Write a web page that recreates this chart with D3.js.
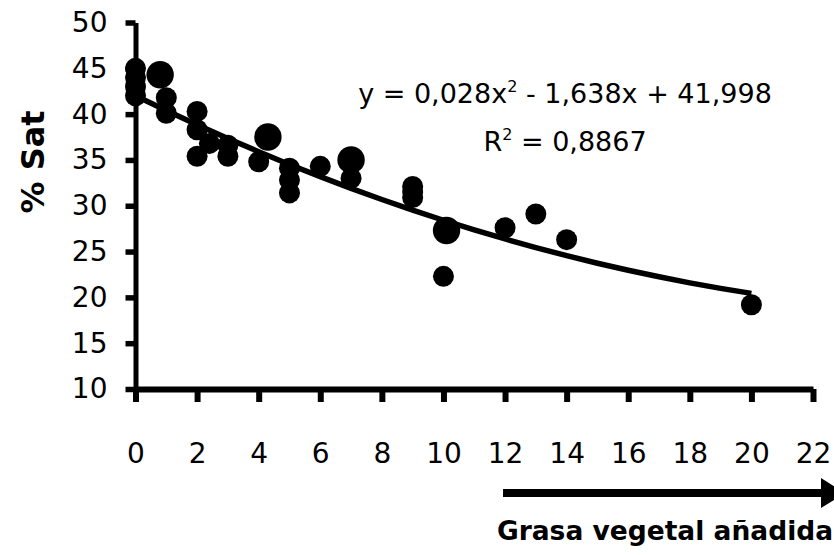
<!DOCTYPE html>
<html>
<head>
<meta charset="utf-8">
<script src="https://cdn.jsdelivr.net/npm/d3@7/dist/d3.min.js"></script>
<style>
  html, body { margin: 0; padding: 0; background: #fff; }
  svg { display: block; }
  text { font-family: "DejaVu Sans", sans-serif; fill: #000; }
</style>
</head>
<body>
<svg id="chart" width="834" height="555"></svg>
<script>
// Saturation (%) against added vegetable fat
const smallX = [0, 0, 0, 0, 1, 1, 2, 2, 2, 2.4, 3, 3, 4, 5, 5, 5, 6, 7, 9, 9, 9, 10, 12, 13, 14, 20];
const smallY = [45, 44, 43, 42, 41.8, 40.1, 40.3, 38.3, 35.4, 36.8, 36.6, 35.4, 34.8, 34.1, 32.8, 31.4, 34.3, 33.0, 32.1, 31.5, 30.9, 22.3, 27.6, 29.1, 26.3, 19.2];
const largeX = [0.8, 4.3, 7, 10.1];
const largeY = [44.3, 37.5, 35.0, 27.3];

// Polynomial trend: y = c2*x^2 + c1*x + c0
const trendCoef = [41.998, -1.638, 0.028];
const trendRange = [0, 20];
const r2Label = "0,8867";

const xTicks = [0, 2, 4, 6, 8, 10, 12, 14, 16, 18, 20, 22];
const yTicks = [10, 15, 20, 25, 30, 35, 40, 45, 50];

const svg = d3.select("#chart");

const x = d3.scaleLinear().domain([0, 22]).range([135.5, 813]);
const y = d3.scaleLinear().domain([10, 50]).range([389, 22.5]);

// Y axis
const yAxis = svg.append("g")
  .attr("transform", `translate(${x(0)},0)`)
  .call(d3.axisLeft(y).tickValues(yTicks).tickSize(10).tickSizeOuter(0).tickPadding(18)
    .tickFormat(d3.format("d")));
yAxis.select(".domain").attr("stroke", "#000").attr("stroke-width", 5);
yAxis.selectAll(".tick line").attr("stroke", "#000").attr("stroke-width", 5.5);
yAxis.selectAll(".tick text")
  .attr("font-family", "DejaVu Sans, sans-serif")
  .attr("font-size", 28).attr("fill", "#000");

// X axis
const xAxis = svg.append("g")
  .attr("transform", `translate(0,${y(10)})`)
  .call(d3.axisBottom(x).tickValues(xTicks).tickSize(13).tickSizeOuter(0).tickPadding(41)
    .tickFormat(d3.format("d")));
xAxis.select(".domain").attr("stroke", "#000").attr("stroke-width", 6);
xAxis.selectAll(".tick line").attr("stroke", "#000").attr("stroke-width", 6);
xAxis.selectAll(".tick text")
  .attr("font-family", "DejaVu Sans, sans-serif")
  .attr("font-size", 28).attr("fill", "#000");

// Markers
const pts = svg.append("g");
pts.selectAll("circle.small")
  .data(d3.zip(smallX, smallY))
  .join("circle")
  .attr("class", "small")
  .attr("cx", d => x(d[0])).attr("cy", d => y(d[1]))
  .attr("r", 10.5).attr("fill", "#000");
pts.selectAll("circle.large")
  .data(d3.zip(largeX, largeY))
  .join("circle")
  .attr("class", "large")
  .attr("cx", d => x(d[0])).attr("cy", d => y(d[1]))
  .attr("r", 13.7).attr("fill", "#000");

// Trend line from the fitted polynomial
const trendFn = t => trendCoef[0] + trendCoef[1] * t + trendCoef[2] * t * t;
const trendXs = d3.range(trendRange[0], trendRange[1] + 0.001, 1);
svg.append("path")
  .datum(trendXs)
  .attr("fill", "none")
  .attr("stroke", "#000")
  .attr("stroke-width", 5.5)
  .attr("stroke-linejoin", "round")
  .attr("d", d3.line().x(d => x(d)).y(d => y(trendFn(d))));

// Equation label
const fmt = v => String(Math.abs(v)).replace(".", ",");
const eq = svg.append("text")
  .attr("x", 565).attr("y", 103)
  .attr("text-anchor", "middle")
  .attr("font-size", 27);
eq.append("tspan").text(`y = ${fmt(trendCoef[2])}x`);
eq.append("tspan").attr("font-size", 16).attr("dy", -11).text("2");
eq.append("tspan").attr("dy", 11).text(` - ${fmt(trendCoef[1])}x + ${fmt(trendCoef[0])}`);

const r2 = svg.append("text")
  .attr("x", 565).attr("y", 151)
  .attr("text-anchor", "middle")
  .attr("font-size", 27);
r2.append("tspan").text("R");
r2.append("tspan").attr("font-size", 16).attr("dy", -11).text("2");
r2.append("tspan").attr("dy", 11).text(` = ${r2Label}`);

// Axis titles
svg.append("text")
  .attr("transform", "translate(44,162) rotate(-90)")
  .attr("text-anchor", "middle")
  .attr("font-weight", "bold")
  .attr("font-size", 32)
  .text("% Sat");

svg.append("text")
  .attr("x", 665).attr("y", 540)
  .attr("text-anchor", "middle")
  .attr("font-weight", "bold")
  .attr("font-size", 26.5)
  .text("Grasa vegetal añadida");

// Direction arrow under the x axis
svg.append("line")
  .attr("x1", 503).attr("x2", 823)
  .attr("y1", 493).attr("y2", 493)
  .attr("stroke", "#000").attr("stroke-width", 8);
svg.append("path")
  .attr("d", "M821,478 L845,493 L821,508 Z")
  .attr("fill", "#000");
</script>
</body>
</html>
